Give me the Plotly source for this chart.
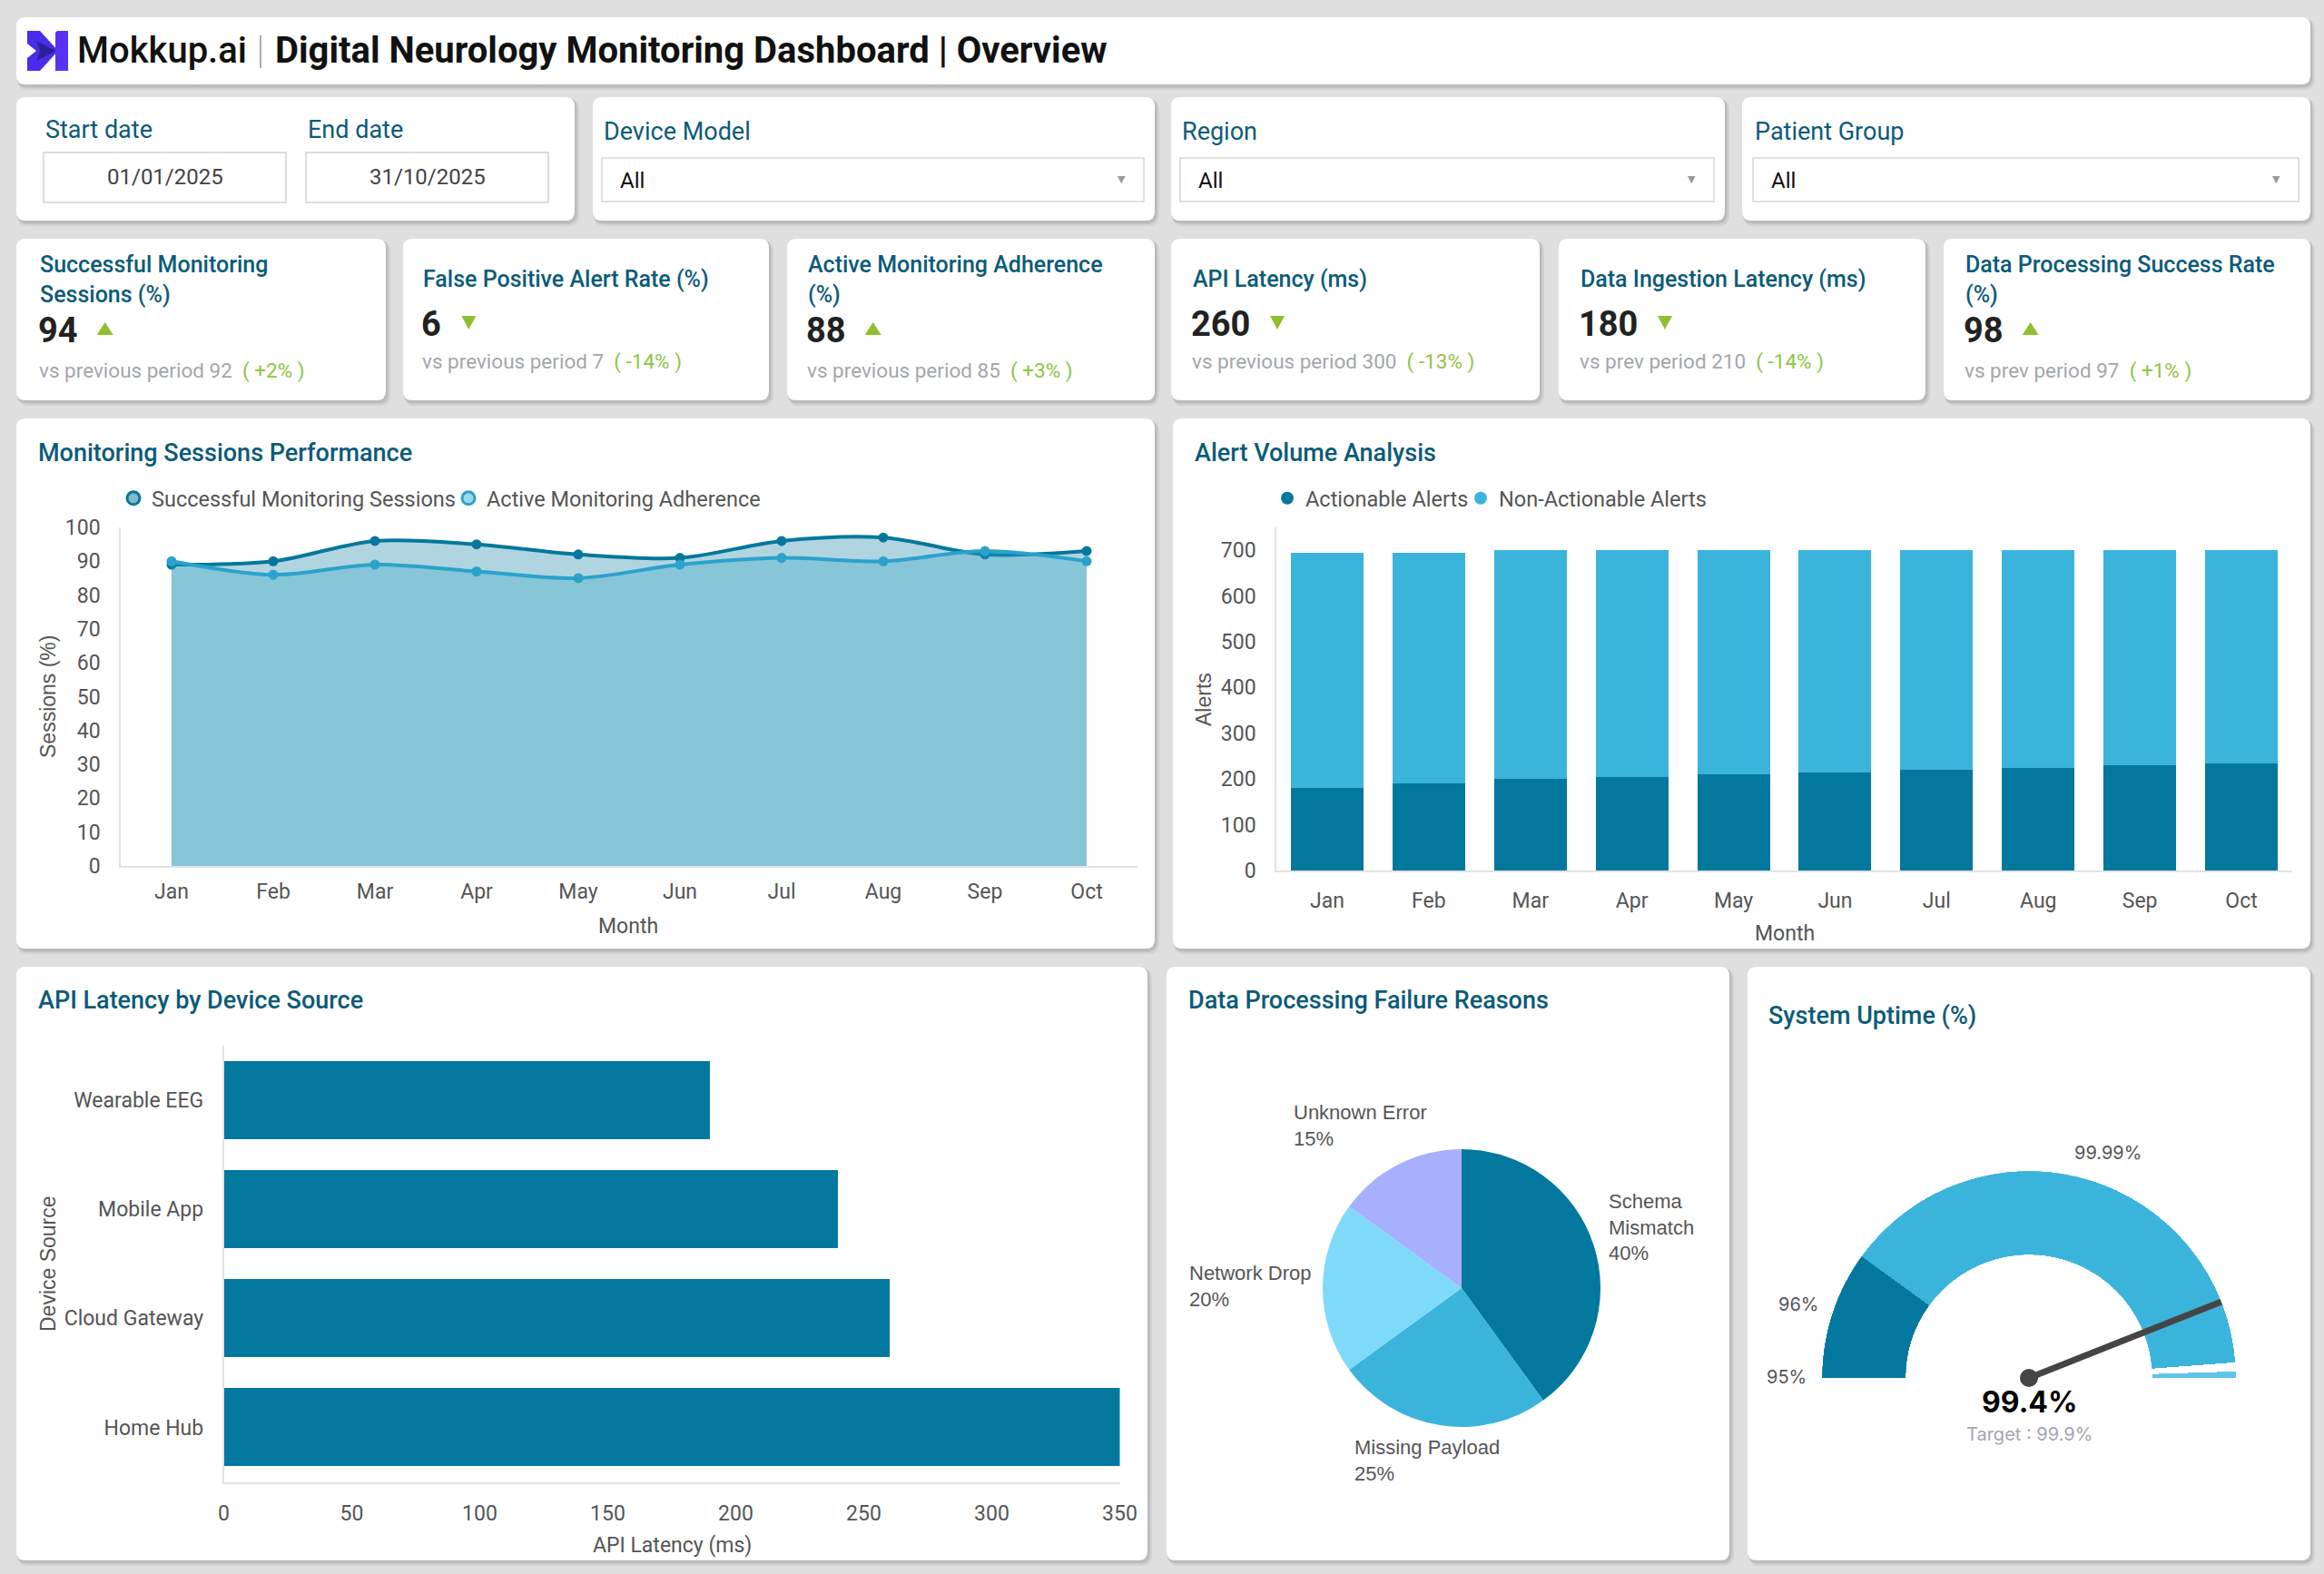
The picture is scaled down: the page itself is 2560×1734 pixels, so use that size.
import plotly.graph_objects as go

W, H = 2560, 1734

# ---------------- data ----------------
months = ['Jan', 'Feb', 'Mar', 'Apr', 'May', 'Jun', 'Jul', 'Aug', 'Sep', 'Oct']
successful_sessions = [89, 90, 96, 95, 92, 91, 96, 97, 92, 93]
active_adherence = [90, 86, 89, 87, 85, 89, 91, 90, 93, 90]

actionable_alerts = [180, 190, 200, 205, 210, 215, 220, 225, 230, 235]
non_actionable_alerts = [515, 505, 500, 495, 490, 485, 480, 475, 470, 465]

device_sources = ['Wearable EEG', 'Mobile App', 'Cloud Gateway', 'Home Hub']
api_latency_ms = [190, 240, 260, 350]

failure_reasons = ['Schema Mismatch', 'Missing Payload', 'Network Drop', 'Unknown Error']
failure_share = [40, 25, 20, 15]

uptime_value = 99.4
uptime_target = 99.9
gauge_min, gauge_max = 95, 100
gauge_band_lo = [95, 96, 99.95]
gauge_band_hi = [96, 99.88, 100]
gauge_tick_labels = ['95%', '96%', '99.99%']

kpi_titles = ['Successful Monitoring<br>Sessions (%)', 'False Positive Alert Rate (%)',
              'Active Monitoring Adherence<br>(%)', 'API Latency (ms)',
              'Data Ingestion Latency (ms)', 'Data Processing Success Rate<br>(%)']
kpi_values = ['94', '6', '88', '260', '180', '98']
kpi_prev_label = ['vs previous period', 'vs previous period', 'vs previous period',
                  'vs previous period', 'vs prev period', 'vs prev period']
kpi_prev = [92, 7, 85, 300, 210, 97]
kpi_change = ['+2%', '-14%', '+3%', '-13%', '-14%', '+1%']
kpi_up = [True, False, True, False, False, True]

date_labels = ['Start date', 'End date']
date_values = ['01/01/2025', '31/10/2025']
filter_labels = ['Device Model', 'Region', 'Patient Group']
filter_values = ['All', 'All', 'All']

# ---------------- styles ----------------
DARK = '#02789e'
LIGHT = '#3bb4dc'
TEAL_TXT = '#0b5b78'
FONT = 'Roboto'


def X(x):
    return x / W


def Y(y):
    return 1 - y / H


def p(x, y):
    return f"{X(x):.6f},{Y(y):.6f}"


def rrect_path(x0, y0, x1, y1, r):
    return (f"M {p(x0 + r, y0)} L {p(x1 - r, y0)} Q {p(x1, y0)} {p(x1, y0 + r)} "
            f"L {p(x1, y1 - r)} Q {p(x1, y1)} {p(x1 - r, y1)} L {p(x0 + r, y1)} "
            f"Q {p(x0, y1)} {p(x0, y1 - r)} L {p(x0, y0 + r)} Q {p(x0, y0)} {p(x0 + r, y0)} Z")


def poly_path(pts):
    return "M " + " L ".join(p(a, b) for a, b in pts) + " Z"


shapes = []
annotations = []


def card(x0, y0, x1, y1):
    shapes.append(dict(type='path', path=rrect_path(x0 + 1, y0 + 2, x1 + 5, y1 + 6, 12),
                       xref='paper', yref='paper', fillcolor='rgba(0,0,0,0.06)',
                       line=dict(width=0), layer='below'))
    shapes.append(dict(type='path', path=rrect_path(x0 + 1, y0 + 1, x1 + 2.5, y1 + 3.5, 11),
                       xref='paper', yref='paper', fillcolor='rgba(0,0,0,0.10)',
                       line=dict(width=0), layer='below'))
    shapes.append(dict(type='path', path=rrect_path(x0, y0, x1, y1, 10),
                       xref='paper', yref='paper', fillcolor='white',
                       line=dict(width=0), layer='below'))


def box(x0, y0, x1, y1, color='#d2d2d2'):
    shapes.append(dict(type='rect', xref='paper', yref='paper', x0=X(x0), x1=X(x1),
                       y0=Y(y1), y1=Y(y0), fillcolor='white',
                       line=dict(color=color, width=1.5), layer='below'))


def ann(text, x, y, size, color, family=FONT, weight='normal', xanchor='left',
        yanchor='middle', align='left', angle=0):
    annotations.append(dict(text=text, x=X(x), y=Y(y), xref='paper', yref='paper',
                            showarrow=False, xanchor=xanchor, yanchor=yanchor,
                            align=align, textangle=angle,
                            font=dict(family=family, size=size, color=color, weight=weight)))


# ---------------- cards ----------------
card(18, 19, 2545, 93)
for x0, x1 in [(18, 633), (653, 1272), (1290, 1900), (1919, 2545)]:
    card(x0, 107, x1, 243)
kpi_x = [(18, 425), (444, 847), (867, 1272), (1290, 1696), (1717, 2121), (2141, 2545)]
for x0, x1 in kpi_x:
    card(x0, 263, x1, 441)
card(18, 461, 1272, 1045)
card(1292, 461, 2545, 1045)
card(18, 1065, 1264, 1719)
card(1285, 1065, 1905, 1719)
card(1925, 1065, 2545, 1719)

# ---------------- header ----------------
shapes.append(dict(type='path', xref='paper', yref='paper', line=dict(width=0),
                   fillcolor='#4b2cee',
                   path=poly_path([(30, 34), (44, 34), (64, 56), (44, 78), (30, 78),
                                   (30, 64), (40, 56), (30, 48)])))
shapes.append(dict(type='path', xref='paper', yref='paper', line=dict(width=0),
                   fillcolor='#2a2296',
                   path=poly_path([(40, 45), (62, 56), (40, 67), (44, 56)])))
shapes.append(dict(type='path', xref='paper', yref='paper', line=dict(width=0),
                   fillcolor='#5733f5',
                   path=poly_path([(63, 34), (75, 34), (75, 78), (61, 78), (61, 36)])))
ann('Mokkup.ai', 83, 55, 40, '#111111', weight=500)
shapes.append(dict(type='line', xref='paper', yref='paper', x0=X(287), x1=X(287),
                   y0=Y(39), y1=Y(75), line=dict(color='#9a8f86', width=1.5)))
ann('Digital Neurology Monitoring Dashboard | Overview', 301, 55, 40, '#111111',
    weight='bold')

# ---------------- filters ----------------
date_x = [48, 337]
for i in range(2):
    ann(date_labels[i], date_x[i], 143, 27, TEAL_TXT)
    box(date_x[i], 168, date_x[i] + 267, 223)
    ann(date_values[i], date_x[i] + 133.5, 195, 24, '#444444', xanchor='center',
        align='center')
filter_x = [(663, 1260), (1300, 1888), (1931, 2532)]
for i in range(3):
    x0, x1 = filter_x[i]
    ann(filter_labels[i], x0, 145, 27, TEAL_TXT)
    box(x0, 174, x1, 222, '#d6d6d6')
    ann(filter_values[i], x0 + 18, 199, 24, '#111111')
    ann('▼', x1 - 25, 198, 11, '#9a9a9a', family='DejaVu Sans', xanchor='center',
        align='center')

# ---------------- KPI cards ----------------
kpi_text_x = [42, 464, 888, 1312, 1739, 2163]
for i in range(6):
    tx = kpi_text_x[i]
    two = '<br>' in kpi_titles[i]
    ann(kpi_titles[i], tx, 308, 25, TEAL_TXT, weight=500)
    vy = 364 if two else 357
    sy = 408 if two else 398
    ann(kpi_values[i], tx - 2, vy, 38, '#222222', weight='bold')
    cx = tx - 2 + len(kpi_values[i]) * 0.5615 * 38 + 33
    cy = vy - 2
    if kpi_up[i]:
        tri = [(cx - 9, cy + 7), (cx + 9, cy + 7), (cx, cy - 7)]
    else:
        tri = [(cx - 8, cy - 7), (cx + 8, cy - 7), (cx, cy + 8)]
    shapes.append(dict(type='path', xref='paper', yref='paper', line=dict(width=0),
                       fillcolor='#8fbf30', path=poly_path(tri)))
    ann(f"{kpi_prev_label[i]} {kpi_prev[i]}&nbsp;&nbsp;<span style='color:#8dc63f'>"
        f"(&nbsp;{kpi_change[i]}&nbsp;)</span>", tx - 1, sy, 22.5, '#a3a6ad')

# ---------------- chart titles ----------------
ann('Monitoring Sessions Performance', 40, 499, 27, TEAL_TXT, weight=500)
ann('Alert Volume Analysis', 1314, 499, 27, TEAL_TXT, weight=500)
ann('API Latency by Device Source', 40, 1102, 27, TEAL_TXT, weight=500)
ann('Data Processing Failure Reasons', 1307, 1102, 27, TEAL_TXT, weight=500)
ann('System Uptime (%)', 1946, 1119, 27, TEAL_TXT, weight=500)

# axis titles
AX_FONT = 'Liberation Sans'
ann('Sessions (%)', 53, 768, 23, '#555555', family=AX_FONT, xanchor='center', angle=-90)
ann('Month', 692, 1020, 23, '#555555', xanchor='center', align='center')
ann('Alerts', 1326, 771, 23, '#555555', family=AX_FONT, xanchor='center', angle=-90)
ann('Month', 1966, 1028, 23, '#555555', xanchor='center', align='center')
ann('Device Source', 53, 1392, 23, '#555555', family=AX_FONT, xanchor='center', angle=-90)
ann('API Latency (ms)', 740, 1702, 23, '#555555', xanchor='center', align='center')

# pie labels
pie_label_pos = {'Schema Mismatch': (1770, 1352), 'Missing Payload': (1490, 1609),
                 'Network Drop': (1308, 1417), 'Unknown Error': (1423, 1240)}
pie_wrap = {'Schema Mismatch': True}
total = sum(failure_share)
for lab, val in zip(failure_reasons, failure_share):
    shown = lab.replace(' ', '<br>') if pie_wrap.get(lab) else lab
    x, y = pie_label_pos[lab]
    ann(f"{shown}<br>{round(val / total * 100)}%", x, y, 22, '#555555', family=AX_FONT)

# gauge labels
gauge_label_pos = [(1968, 1517), (1981, 1437), (2322, 1270)]
for t, (x, y) in zip(gauge_tick_labels, gauge_label_pos):
    ann(t, x, y, 20, '#555555', family='Inter', xanchor='center', align='center')
ann(f"{uptime_value}%", 2235, 1544, 32, '#000000', family='Inter', weight='bold',
    xanchor='center', align='center')
ann(f"Target : {uptime_target}%", 2235, 1580, 20, '#a3a6b0', family='Inter',
    xanchor='center', align='center')

# ---------------- traces ----------------
fig = go.Figure()

# Monitoring sessions (area lines)
fig.add_trace(go.Scatter(x=months, y=successful_sessions, mode='lines+markers',
                         name='Successful Monitoring Sessions',
                         line=dict(color='#04789c', width=4, shape='spline', smoothing=0.9),
                         marker=dict(size=11, color='#04789c'),
                         fill='tozeroy', fillcolor='rgba(4,120,156,0.31)',
                         showlegend=False, xaxis='x', yaxis='y'))
fig.add_trace(go.Scatter(x=months, y=active_adherence, mode='lines+markers',
                         name='Active Monitoring Adherence',
                         line=dict(color='#2ba2cc', width=4, shape='spline', smoothing=0.9),
                         marker=dict(size=11, color='#2ba2cc'),
                         fill='tozeroy', fillcolor='rgba(43,162,204,0.31)',
                         showlegend=False, xaxis='x', yaxis='y'))
fig.add_trace(go.Scatter(x=[None], y=[None], mode='markers', name='Successful Monitoring Sessions',
                         marker=dict(size=14, color='#7fb9cc', line=dict(color='#04789c', width=3)),
                         legend='legend', xaxis='x', yaxis='y'))
fig.add_trace(go.Scatter(x=[None], y=[None], mode='markers', name='Active Monitoring Adherence',
                         marker=dict(size=14, color='#9ad8ee', line=dict(color='#2ba2cc', width=3)),
                         legend='legend2', xaxis='x', yaxis='y'))

# Alert volume (stacked bars)
fig.add_trace(go.Bar(x=months, y=actionable_alerts, name='Actionable Alerts',
                     marker=dict(color=DARK, line=dict(width=0)), showlegend=False,
                     xaxis='x2', yaxis='y2'))
fig.add_trace(go.Bar(x=months, y=non_actionable_alerts, name='Non-Actionable Alerts',
                     marker=dict(color=LIGHT, line=dict(width=0)), showlegend=False,
                     xaxis='x2', yaxis='y2'))
fig.add_trace(go.Scatter(x=[None], y=[None], mode='markers', name='Actionable Alerts',
                         marker=dict(size=14, color=DARK), legend='legend3',
                         xaxis='x2', yaxis='y2'))
fig.add_trace(go.Scatter(x=[None], y=[None], mode='markers', name='Non-Actionable Alerts',
                         marker=dict(size=14, color=LIGHT), legend='legend4',
                         xaxis='x2', yaxis='y2'))

# API latency (horizontal bars)
fig.add_trace(go.Bar(x=api_latency_ms, y=device_sources, orientation='h',
                     name='API Latency', marker=dict(color=DARK, line=dict(width=0)),
                     showlegend=False, xaxis='x3', yaxis='y3'))

# Failure reasons pie
fig.add_trace(go.Pie(labels=failure_reasons, values=failure_share, sort=False,
                     direction='clockwise', rotation=0, textinfo='none',
                     marker=dict(colors=[DARK, LIGHT, '#7fdaf9', '#a6b0fc'], line=dict(width=0)),
                     domain=dict(x=[X(1457), X(1763)], y=[Y(1572), Y(1266)]),
                     showlegend=False))


# Uptime gauge
def gauge_theta(v):
    return (v - gauge_min) / (gauge_max - gauge_min) * 180.0


band_theta = [gauge_theta((lo + hi) / 2) for lo, hi in zip(gauge_band_lo, gauge_band_hi)]
band_width = [gauge_theta(hi) - gauge_theta(lo) for lo, hi in zip(gauge_band_lo, gauge_band_hi)]
fig.add_trace(go.Barpolar(theta=band_theta, width=band_width, r=[1] * len(band_theta),
                          marker=dict(color=[DARK, LIGHT, '#5ec5e9'], line=dict(width=0)),
                          subplot='polar', showlegend=False, hoverinfo='skip'))
tv = gauge_theta(uptime_value)
fig.add_trace(go.Scatterpolar(r=[0, 1.0], theta=[tv, tv], mode='lines',
                              line=dict(color='#454545', width=7), cliponaxis=False,
                              subplot='polar2', showlegend=False))
fig.add_trace(go.Scatterpolar(r=[0], theta=[tv], mode='markers',
                              marker=dict(size=20, color='#454545'), cliponaxis=False,
                              subplot='polar2', showlegend=False))

# ---------------- layout ----------------
TICK = dict(family=FONT, size=23, color='#555555')
AXLINE = '#e3e3e3'
AXCOMMON = dict(showgrid=False, zeroline=False, showline=True, linecolor=AXLINE,
                linewidth=1.5, ticks='', tickfont=TICK, automargin=False, fixedrange=True)

polar_common = dict(domain=dict(x=[X(2007), X(2463)], y=[Y(1518), Y(1290)]),
                    sector=[0, 180], bgcolor='rgba(0,0,0,0)',
                    radialaxis=dict(visible=False, range=[0, 1]),
                    angularaxis=dict(visible=False, rotation=180, direction='clockwise'))

LEG_FONT = dict(family=FONT, size=23.5, color='#555555')


def legend_at(x_left):
    return dict(x=X(x_left), y=Y(549), xanchor='left', yanchor='middle', orientation='h',
                font=LEG_FONT, bgcolor='rgba(0,0,0,0)', traceorder='normal')


fig.update_layout(
    autosize=True, margin=dict(l=0, r=0, t=0, b=0, autoexpand=False),
    paper_bgcolor='#dfdfdf', plot_bgcolor='rgba(0,0,0,0)',
    barmode='stack', bargap=0.285,
    shapes=shapes, annotations=annotations,
    xaxis=dict(domain=[X(133), X(1253)], anchor='y', type='category', range=[-0.5, 9.5],
               ticklabelstandoff=7, **AXCOMMON),
    yaxis=dict(domain=[Y(954), Y(581)], anchor='x', range=[0, 100], dtick=10, tick0=0,
               ticklabelstandoff=16, **AXCOMMON),
    xaxis2=dict(domain=[X(1406), X(2525)], anchor='y2', type='category', range=[-0.5, 9.5],
                ticklabelstandoff=12, **AXCOMMON),
    yaxis2=dict(domain=[Y(959), Y(581)], anchor='x2', range=[0, 750], dtick=100, tick0=0,
                ticklabelstandoff=16, **AXCOMMON),
    xaxis3=dict(domain=[X(246.5), X(1233.5)], anchor='y3', range=[0, 350], dtick=50, tick0=0,
                ticklabelstandoff=13, **AXCOMMON),
    yaxis3=dict(domain=[Y(1632.5), Y(1152)], anchor='x3', type='category',
                categoryorder='array', categoryarray=device_sources, range=[3.5, -0.5],
                ticklabelstandoff=16, **AXCOMMON),
    polar=dict(hole=0.595, **polar_common),
    polar2=dict(hole=0, **polar_common),
    legend=legend_at(127),
    legend2=legend_at(496),
    legend3=legend_at(1398),
    legend4=legend_at(1611),
    hoverlabel=dict(font=dict(family=FONT)),
)

# The graph div is pinned to the page's top-left corner at exactly 2560x1734 px,
# so the browser's default body margin cannot offset or rescale the figure.
fig.write_html("out.html", config={'displayModeBar': False},
               default_width=f"{W}px",
               default_height=f"{H}px;position:absolute;left:0;top:0",
               post_script="document.body.style.margin='0';")
